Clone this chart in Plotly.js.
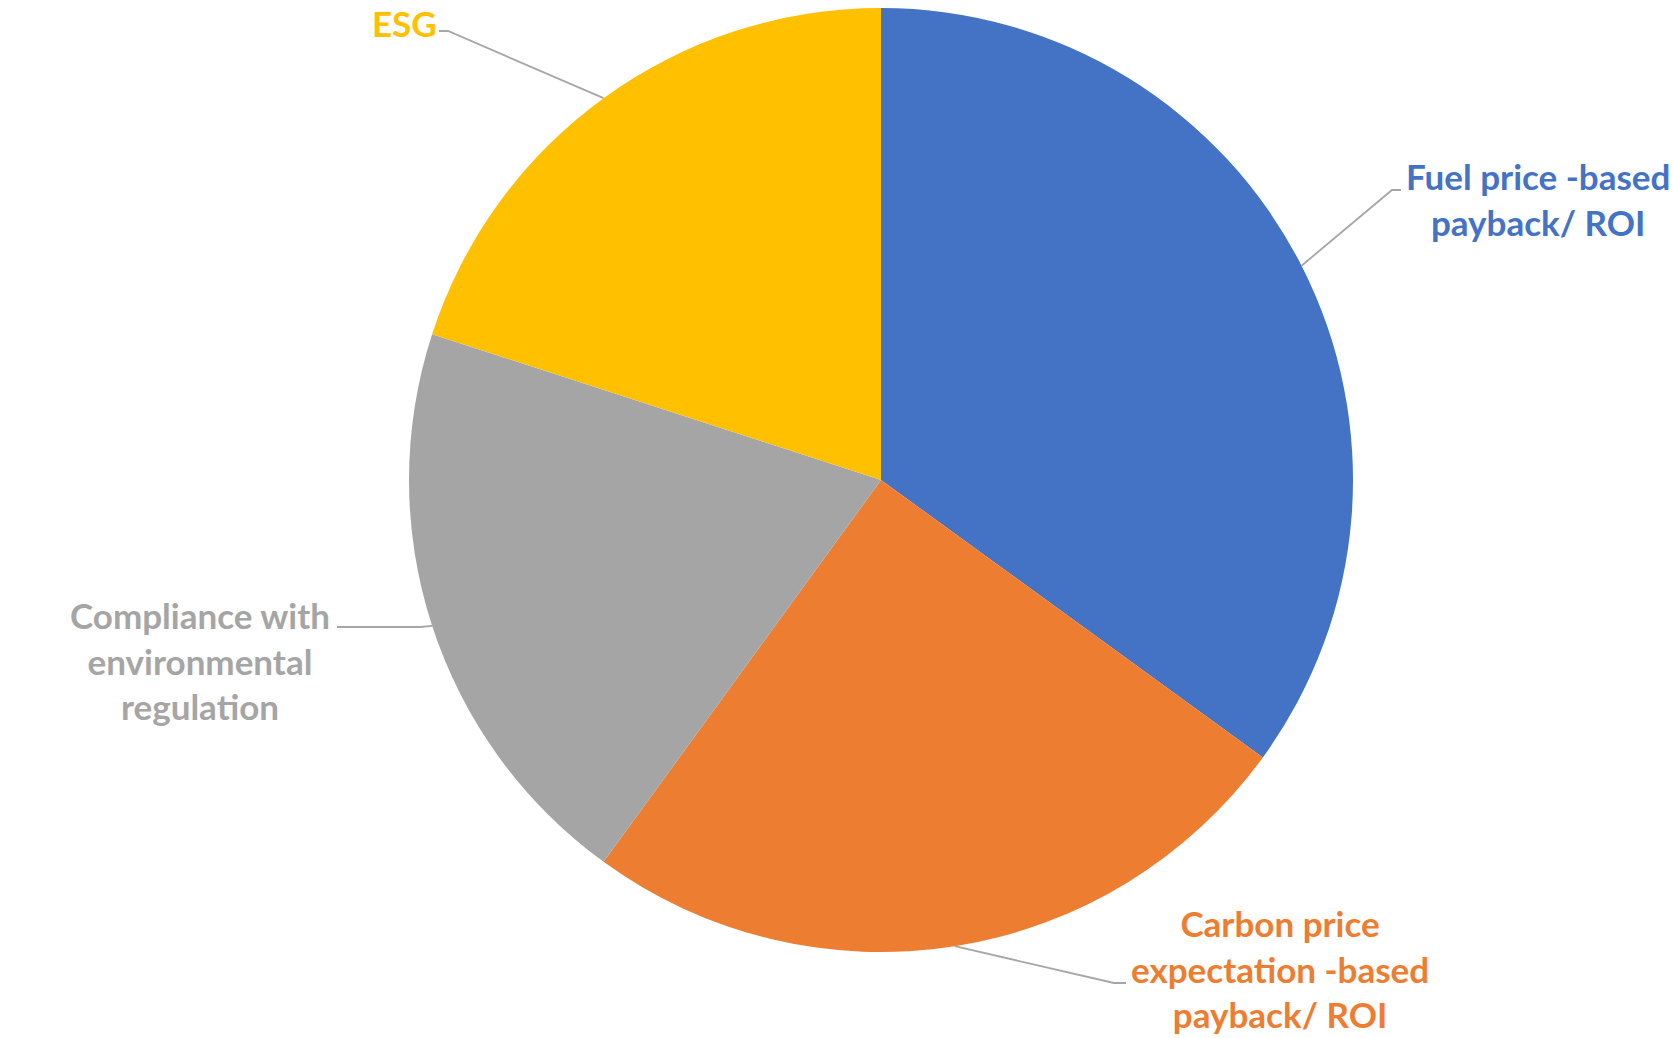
<!DOCTYPE html>
<html>
<head>
<meta charset="utf-8">
<script src="https://cdn.plot.ly/plotly-3.0.1.min.js"></script>
<style>html,body{margin:0;padding:0;background:#fff;}#chart{width:1673px;height:1038px;}</style>
</head>
<body>
<div id="chart"></div>
<script>
// ---- Data ----
const categories = [
  "Fuel price -based<br>payback/ ROI",
  "Carbon price<br>expectation -based<br>payback/ ROI",
  "Compliance with<br>environmental<br>regulation",
  "ESG"
];
const values = [35, 25, 20, 20];
const colors = ["#4472C4", "#ED7D31", "#A5A5A5", "#FFC000"];

// ---- Layout helpers (pixels) ----
const W = 1673, H = 1038;
const cx = 881, cy = 480, R = 472;
// label placement: elbow point, line end, text centre
const labelPos = [
  {elbow: [1392, 190], end: [1401, 190], text: [1538, 199]},
  {elbow: [1114, 983], end: [1126, 983], text: [1280, 968]},
  {elbow: [420, 627], end: [337, 627], text: [200, 660]},
  {elbow: [448, 31], end: [439, 31], text: [404, 23]}
];
const px = x => x / W;
const py = y => 1 - y / H;

const total = values.reduce((a, b) => a + b, 0);
let cum = 0;
const shapes = [];
const annotations = [];
values.forEach((v, i) => {
  const mid = (cum + v / 2) / total * 2 * Math.PI; // clockwise from 12 o'clock
  cum += v;
  const sx = cx + R * Math.sin(mid);
  const sy = cy - R * Math.cos(mid);
  const p = labelPos[i];
  shapes.push({
    type: 'path', xref: 'paper', yref: 'paper',
    path: `M ${px(sx)} ${py(sy)} L ${px(p.elbow[0])} ${py(p.elbow[1])} L ${px(p.end[0])} ${py(p.end[1])}`,
    line: {color: '#A6A6A6', width: 1.8}
  });
  annotations.push({
    xref: 'paper', yref: 'paper', x: px(p.text[0]), y: py(p.text[1]),
    xanchor: 'center', yanchor: 'middle', align: 'center', showarrow: false,
    borderpad: 0,
    text: '<b>' + categories[i] + '</b>',
    font: {family: 'Lato, "Open Sans", sans-serif', size: 35, color: colors[i]}
  });
});

const trace = {
  type: 'pie',
  labels: categories.map(c => c.replace(/<br>/g, ' ')),
  values: values,
  marker: {colors: colors, line: {width: 0}},
  sort: false,
  direction: 'clockwise',
  rotation: 0,
  textinfo: 'none',
  hoverinfo: 'label+percent',
  showlegend: false,
  domain: {x: [(cx - R) / W, (cx + R) / W], y: [1 - (cy + R) / H, 1 - (cy - R) / H]}
};

Plotly.newPlot('chart', [trace], {
  width: W, height: H,
  margin: {l: 0, r: 0, t: 0, b: 0},
  paper_bgcolor: '#ffffff',
  showlegend: false,
  shapes: shapes,
  annotations: annotations
}, {displayModeBar: false});
</script>
</body>
</html>
